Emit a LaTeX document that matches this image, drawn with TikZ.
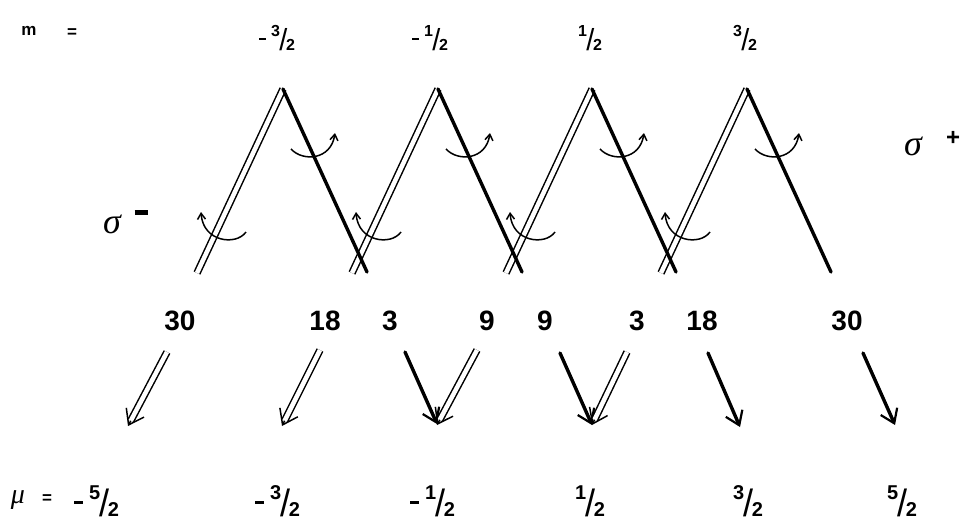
\documentclass[tikz,border=0pt]{standalone}
\usepackage{fontspec}
\usepackage{graphicx}
\setmainfont{Liberation Sans}
\newfontfamily\grk{Liberation Serif}
\usetikzlibrary{arrows.meta,calc}
\newcommand{\myfrac}[2]{\raisebox{0.85em}{#1}\kern-0.04em{\mdseries\scalebox{1.8}[1.9]{/}}\kern-0.08em#2}
\newcommand{\mymin}{\raisebox{0.62em}{\rule{0.42em}{0.11em}}}
\begin{document}
\begin{tikzpicture}[x=1pt,y=-1pt,
  dbl/.style={line width=1.5pt, double, double distance=4.5pt},
  sgl/.style={line width=3.4pt, line cap=round},
  curv/.style={line width=1.5pt, -{Straight Barb[length=6pt,width=8pt]}},
  dtip/.style={line width=1.5pt, -{Straight Barb[length=14pt,width=20pt]}},
  stip/.style={line width=3.4pt, line cap=round, -{Straight Barb[length=13pt,width=18pt,line width=2.2pt]}},
  num/.style={font=\fontsize{28}{30}\selectfont\bfseries, inner sep=0pt},
  topfr/.style={font=\fontsize{16}{18}\selectfont\bfseries, inner sep=0pt, anchor=base},
  botfr/.style={font=\fontsize{20}{22}\selectfont\bfseries, inner sep=0pt, anchor=base},
  sig/.style={font=\fontsize{36}{38}\selectfont\grk\itshape, inner sep=0pt}]
\useasboundingbox (0,0) rectangle (966,525);

% apexes and bottoms of the ladder
\foreach \k/\a in {1/283,2/438,3/592,4/747}{
  \coordinate (T\k) at (\a,89);
  \coordinate (D\k) at (\a-86,273);
  \coordinate (S\k) at (\a+84,272);
}
\foreach \k in {1,2,3,4}{ \draw[dbl] (D\k) -- (T\k); }
\foreach \k in {1,2,3,4}{ \draw[sgl] (T\k) -- (S\k); }

% curved arrows
\foreach \a in {283,438,592,747}{
  \draw[curv] (\a-37,232) .. controls (\a-47,246) and (\a-80,242) .. (\a-82,212);
  \draw[curv] (\a+8,149) .. controls (\a+20,162) and (\a+48,160) .. (\a+52,133);
}

% sigma labels
\node[sig] (sm) at (112,224) {σ};
\node[inner sep=0pt] (smd) at (141,212) {\rule{13pt}{5pt}};
\node[sig] (sp) at (913,146) {σ};
\node[font=\fontsize{24}{24}\selectfont\bfseries, inner sep=0pt] (spp) at (953,138) {+};

% top row
\node[font=\fontsize{17}{18}\selectfont\bfseries, inner sep=0pt] (mm) at (29,31) {m};
\node[font=\fontsize{17}{18}\selectfont\bfseries, inner sep=0pt] (me) at (72,33) {=};
\node[topfr] (m1) at (283,50) {\myfrac{3}{2}};
\node[topfr, anchor=base east] (m1s) at (m1.base west) {\mymin\kern0.3em};
\node[topfr] (m2) at (436,50) {\myfrac{1}{2}};
\node[topfr, anchor=base east] (m2s) at (m2.base west) {\mymin\kern0.3em};
\node[topfr] (m3) at (590,50) {\myfrac{1}{2}};
\node[topfr] (m4) at (745,50) {\myfrac{3}{2}};

% numbers
\node[num] (n1) at (180,321) {30};
\node[num] (n2) at (325,321) {18};
\node[num] (n3) at (390,321) {3};
\node[num] (n4) at (487,321) {9};
\node[num] (n5) at (545,321) {9};
\node[num] (n6) at (637,321) {3};
\node[num] (n7) at (702,321) {18};
\node[num] (n8) at (847,321) {30};

% bottom arrows
\coordinate (a1) at (167,352); \coordinate (b1) at (128,426);
\coordinate (a2) at (320,350); \coordinate (b2) at (282,426);
\coordinate (a3) at (477,350); \coordinate (b3) at (437,425);
\coordinate (a4) at (627,352); \coordinate (b4) at (592,425);
\coordinate (c1) at (405,352); \coordinate (e1) at (437,424);
\coordinate (c2) at (560,353); \coordinate (e2) at (592,425);
\coordinate (c3) at (708,353); \coordinate (e3) at (740,427);
\coordinate (c4) at (863,353); \coordinate (e4) at (895,425);
\foreach \i in {1,2,3,4}{
  \draw[dtip] ($(a\i)!0.6!(b\i)$) -- (b\i);
  \draw[dbl, shorten >=6pt] (a\i) -- (b\i);
  \draw[stip] (c\i) -- (e\i);
}

% bottom row
\node[font=\fontsize{28}{28}\selectfont\grk\itshape, inner sep=0pt] (mu) at (18,500) {μ};
\node[font=\fontsize{17}{18}\selectfont\bfseries, inner sep=0pt] (mue) at (47,499) {=};
\node[botfr] (u1) at (104,516) {\myfrac{5}{2}};
\node[botfr, anchor=base east] (u1s) at (u1.base west) {\mymin\kern0.3em};
\node[botfr] (u2) at (285,516) {\myfrac{3}{2}};
\node[botfr, anchor=base east] (u2s) at (u2.base west) {\mymin\kern0.3em};
\node[botfr] (u3) at (440,516) {\myfrac{1}{2}};
\node[botfr, anchor=base east] (u3s) at (u3.base west) {\mymin\kern0.3em};
\node[botfr] (u4) at (590,516) {\myfrac{1}{2}};
\node[botfr] (u5) at (748,516) {\myfrac{3}{2}};
\node[botfr] (u6) at (902,516) {\myfrac{5}{2}};
\end{tikzpicture}
\end{document}
